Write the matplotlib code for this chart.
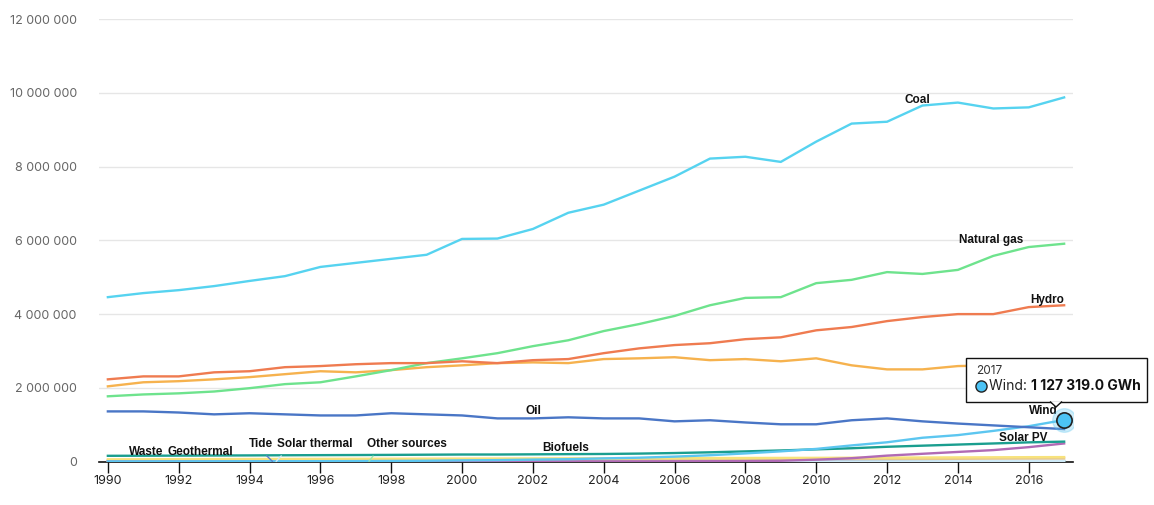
import numpy as np
import matplotlib.pyplot as plt

plt.rcParams['font.family'] = ['Inter', 'DejaVu Sans']
LABEL_FONT = ['Liberation Sans', 'DejaVu Sans']

years = list(range(1990, 2018))

# GWh
coal = [4.46, 4.57, 4.65, 4.76, 4.90, 5.03, 5.28, 5.39, 5.50, 5.61, 6.04, 6.05, 6.31, 6.75,
        6.97, 7.35, 7.73, 8.22, 8.27, 8.13, 8.68, 9.17, 9.22, 9.66, 9.74, 9.58, 9.61, 9.88]
natural_gas = [1.77, 1.82, 1.85, 1.90, 1.99, 2.10, 2.15, 2.31, 2.48, 2.67, 2.80, 2.94, 3.13, 3.29,
               3.54, 3.73, 3.95, 4.24, 4.44, 4.46, 4.84, 4.93, 5.14, 5.09, 5.20, 5.58, 5.82, 5.91]
hydro = [2.23, 2.31, 2.31, 2.42, 2.45, 2.56, 2.59, 2.64, 2.67, 2.67, 2.72, 2.67, 2.75, 2.78,
         2.94, 3.07, 3.16, 3.21, 3.32, 3.37, 3.56, 3.65, 3.81, 3.92, 4.00, 4.00, 4.19, 4.24]
nuclear = [2.04, 2.15, 2.18, 2.23, 2.29, 2.37, 2.45, 2.42, 2.48, 2.56, 2.61, 2.67, 2.69, 2.67,
           2.78, 2.80, 2.83, 2.75, 2.78, 2.72, 2.80, 2.61, 2.50, 2.50, 2.59, 2.61, 2.64, 2.67]
oil = [1.36, 1.36, 1.33, 1.28, 1.31, 1.28, 1.25, 1.25, 1.31, 1.28, 1.25, 1.17, 1.17, 1.20,
       1.17, 1.17, 1.09, 1.12, 1.06, 1.01, 1.01, 1.12, 1.17, 1.09, 1.03, 0.98, 0.93, 0.88]
wind = [0.004, 0.004, 0.005, 0.006, 0.007, 0.008, 0.010, 0.012, 0.016, 0.021, 0.031, 0.038,
        0.052, 0.063, 0.085, 0.104, 0.133, 0.171, 0.220, 0.276, 0.342, 0.437, 0.522, 0.645,
        0.717, 0.831, 0.958, 1.127319]
biofuels = [0.155, 0.157, 0.160, 0.163, 0.166, 0.170, 0.173, 0.176, 0.180, 0.185, 0.190, 0.190,
            0.195, 0.200, 0.205, 0.215, 0.230, 0.250, 0.275, 0.300, 0.330, 0.360, 0.400, 0.430,
            0.460, 0.490, 0.520, 0.540]
solar_pv = [0.000, 0.000, 0.000, 0.000, 0.000, 0.001, 0.001, 0.001, 0.001, 0.001, 0.001, 0.002,
            0.002, 0.003, 0.003, 0.004, 0.006, 0.008, 0.012, 0.020, 0.050, 0.090, 0.160, 0.210,
            0.260, 0.310, 0.390, 0.490]
waste = [0.060, 0.062, 0.064, 0.066, 0.068, 0.070, 0.072, 0.074, 0.076, 0.078, 0.080, 0.082,
         0.084, 0.086, 0.088, 0.090, 0.092, 0.094, 0.096, 0.098, 0.100, 0.103, 0.106, 0.109,
         0.112, 0.115, 0.118, 0.120]
geothermal = [0.036, 0.037, 0.039, 0.040, 0.040, 0.040, 0.042, 0.043, 0.045, 0.047, 0.052, 0.053,
              0.052, 0.054, 0.056, 0.058, 0.059, 0.062, 0.065, 0.067, 0.068, 0.069, 0.070, 0.071,
              0.074, 0.080, 0.082, 0.085]
other = [0.005, 0.005, 0.005, 0.005, 0.005, 0.005, 0.006, 0.006, 0.006, 0.006, 0.006, 0.006,
         0.006, 0.007, 0.007, 0.007, 0.007, 0.007, 0.008, 0.008, 0.008, 0.008, 0.009, 0.009,
         0.009, 0.010, 0.010, 0.010]
solar_thermal = [0.001, 0.001, 0.001, 0.001, 0.001, 0.001, 0.001, 0.001, 0.001, 0.001, 0.001,
                 0.001, 0.001, 0.001, 0.001, 0.001, 0.001, 0.001, 0.001, 0.001, 0.002, 0.003,
                 0.005, 0.007, 0.009, 0.010, 0.011, 0.012]
tide = [0.0006] * 28

series = [
    ('Other sources', other, '#9be8ad'),
    ('Tide', tide, '#5b7fc9'),
    ('Solar thermal', solar_thermal, '#cfeaf7'),
    ('Geothermal', geothermal, '#e8c98e'),
    ('Waste', waste, '#f7e27c'),
    ('Solar PV', solar_pv, '#b06ab5'),
    ('Biofuels', biofuels, '#1a9e8f'),
    ('Wind', wind, '#5cc6f0'),
    ('Oil', oil, '#4a76c6'),
    ('Nuclear', nuclear, '#f6b24e'),
    ('Natural gas', natural_gas, '#6ee38d'),
    ('Hydro', hydro, '#ef7b50'),
    ('Coal', coal, '#56d3f0'),
]

# label left edge (year) and centre height (million GWh)
labels = {
    'Coal': (2012.49, 9.82), 'Natural gas': (2014.03, 6.02), 'Hydro': (2016.04, 4.39),
    'Oil': (2001.78, 1.37), 'Wind': (2016.01, 1.37), 'Solar PV': (2015.16, 0.64),
    'Biofuels': (2002.26, 0.366), 'Waste': (1990.61, 0.257), 'Geothermal': (1991.68, 0.257),
}
pointers = {
    'Tide': ((1993.98, 0.474), 1994.65, '#5b7fc9', 0.5),
    'Solar thermal': ((1994.77, 0.474), 1994.75, '#cfeaf7', 0.13),
    'Other sources': ((1997.33, 0.474), 1997.37, '#9be8ad', 0.13),
}

fig = plt.figure(figsize=(11.54, 5.05), dpi=100)
ax = fig.add_axes([0.0858, 0.0861, 0.844, 0.8757])

data = {}
for name, vals, col in series:
    v = np.array(vals) * 1e6
    data[name] = v
    ax.plot(years, v, color=col, lw=1.7, solid_joinstyle='round', zorder=3)

for name, (x, y) in labels.items():
    ax.text(x, y * 1e6, name, ha='left', va='center', fontsize=8.5, family=LABEL_FONT,
            fontweight='bold', color='#111', zorder=5)

for name, ((tx, ty), px, col, rp) in pointers.items():
    py = np.interp(px, years, data[name])
    ax.annotate(name, xy=(px, py), xytext=(tx, ty * 1e6), ha='left', va='center',
                fontsize=8.5, family=LABEL_FONT, fontweight='bold', color='#111', zorder=5,
                arrowprops=dict(arrowstyle='-', color=col, lw=1, shrinkA=3, shrinkB=0,
                                relpos=(rp, 0.0)))

# highlighted point
ax.plot(years[-1], data['Wind'][-1], 'o', ms=17, color='#5cc6f0', alpha=0.3, zorder=6)
ax.plot(years[-1], data['Wind'][-1], 'o', ms=11, mfc='#4cc3f5', mec='#222', mew=1.2, zorder=7)

ax.set_xlim(1989.75, 2017.25)
ax.set_ylim(0, 12e6)
ax.set_xticks(range(1990, 2017, 2))
ax.set_yticks(np.arange(0, 12.1e6, 2e6))
ax.set_yticklabels([f'{int(v):,}'.replace(',', ' ') for v in np.arange(0, 12.1e6, 2e6)])
ax.tick_params(axis='y', length=0, pad=16, labelsize=9, labelcolor='#666')
ax.tick_params(axis='x', length=8, width=1, direction='out', pad=2, labelsize=9,
               labelcolor='#222', color='#111')
for s in ['top', 'right', 'left']:
    ax.spines[s].set_visible(False)
ax.spines['bottom'].set_color('#111')
ax.spines['bottom'].set_linewidth(1.2)
ax.grid(axis='y', color='#e6e6e6', lw=1)
ax.set_axisbelow(True)

# tooltip
W, H = 1154, 505
box = plt.Rectangle((966 / W, 1 - 402 / H), 181 / W, 44 / H, transform=fig.transFigure,
                    fc='white', ec='#111', lw=1, zorder=10)
fig.patches.append(box)
notch = plt.Polygon([(1050 / W, 1 - 401.5 / H), (1056 / W, 1 - 407 / H), (1062 / W, 1 - 401.5 / H)],
                    closed=False, transform=fig.transFigure, fc='white', ec='#111', lw=1, zorder=11)
fig.patches.append(notch)
fig.text(976 / W, 1 - 371 / H, '2017', fontsize=8.5, color='#333', va='center', zorder=12)
fig.lines.append(plt.Line2D([981 / W], [1 - 386 / H], marker='o', ms=8, mfc='#4cc3f5', mec='#222',
                            mew=1, transform=fig.transFigure, zorder=12))
t1 = fig.text(989 / W, 1 - 386 / H, 'Wind: ', fontsize=10, color='#222', va='center', zorder=12)
fig.canvas.draw()
bb = t1.get_window_extent()
fig.text(bb.x1 / W, 1 - 386 / H, '1 127 319.0 GWh', fontsize=10, fontweight='bold',
         color='#111', va='center', zorder=12)

plt.savefig('out.png', dpi=100)
